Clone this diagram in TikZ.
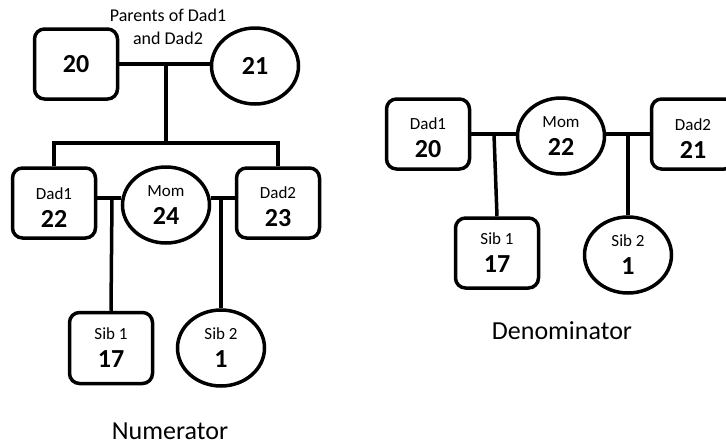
\documentclass[tikz,border=0pt]{standalone}
\usepackage{fontspec}
\setmainfont{Carlito}
\usetikzlibrary{shapes.geometric}
\tikzset{
  sqnode/.style={draw, line width=3.5pt, rounded corners=10pt, minimum width=83pt, minimum height=70pt, inner sep=0pt, align=center, font=\fontsize{17}{28}\selectfont},
  ovnode/.style={draw, ellipse, line width=3.5pt, minimum width=87pt, minimum height=76pt, inner sep=0pt, align=center, font=\fontsize{17}{28}\selectfont},
  famline/.style={line width=3.5pt},
  captxt/.style={font=\fontsize{26}{30}\selectfont}
}
\newcommand{\agenum}[1]{{\fontsize{26}{28}\selectfont\bfseries #1}}
\newcommand{\dadtop}{\rule{0pt}{20pt}}

\begin{document}
\begin{tikzpicture}[x=1pt, y=-1pt]
    \useasboundingbox (0,0) rectangle (726,445);
    \clip (0,0) rectangle (726,445);

    % --- Numerator: grandparents ---
    \node[sqnode] (gpA) at (76,64) {\agenum{20}};
    \node[ovnode] (gmA) at (255,66) {\agenum{21}};
    \node[font=\fontsize{18}{23}\selectfont, align=center] (ptxt) at (168,27) {Parents of Dad1\\and Dad2};

    % --- Numerator: parents ---
    \node[sqnode] (dadA) at (54,203) {\dadtop Dad1\\\agenum{22}};
    \node[ovnode] (momA) at (166,205) {Mom\\\agenum{24}};
    \node[sqnode] (dadB) at (278,203) {\dadtop Dad2\\\agenum{23}};

    % --- Numerator: siblings ---
    \node[sqnode, minimum height=71pt] (sibA) at (111,348) {Sib 1\\\agenum{17}};
    \node[ovnode] (sibB) at (221,348) {Sib 2\\\agenum{1}};

    \coordinate (pA) at (166,65);
    \coordinate (sA) at (166,143);
    \coordinate (mA) at (112,198);
    \coordinate (mB) at (221,198);

    \draw[famline] (gpA.east) -- (gmA.west |- gpA.east);
    \draw[famline] (pA) -- (sA);
    \draw[famline] (dadA.north) |- (sA) -| (dadB.north);
    \draw[famline] (dadA.east |- mA) -- (momA.west |- mA);
    \draw[famline] (momA.east |- mB) -- (dadB.west |- mB);
    \draw[famline] (mA) -- (sibA.north);
    \draw[famline] (mB) -- (sibB.north);

    \node[captxt] (numcap) at (170,431) {Numerator};

    % --- Denominator ---
    \node[sqnode] (dadC) at (428,134) {\dadtop Dad1\\\agenum{20}};
    \node[ovnode] (momC) at (561,136) {Mom\\\agenum{22}};
    \node[sqnode] (dadD) at (693,134) {\dadtop Dad2\\\agenum{21}};
    \node[sqnode] (sibC) at (497,253) {Sib 1\\\agenum{17}};
    \node[ovnode] (sibD) at (628,255) {Sib 2\\\agenum{1}};

    \coordinate (mC) at (494,134);
    \coordinate (mD) at (628,134);

    \draw[famline] (dadC.east |- mC) -- (momC.west |- mC);
    \draw[famline] (momC.east |- mD) -- (dadD.west |- mD);
    \draw[famline] (mC) -- (sibC.north);
    \draw[famline] (mD) -- (sibD.north);

    \node[captxt] (dencap) at (562,331) {Denominator};
\end{tikzpicture}
\end{document}
